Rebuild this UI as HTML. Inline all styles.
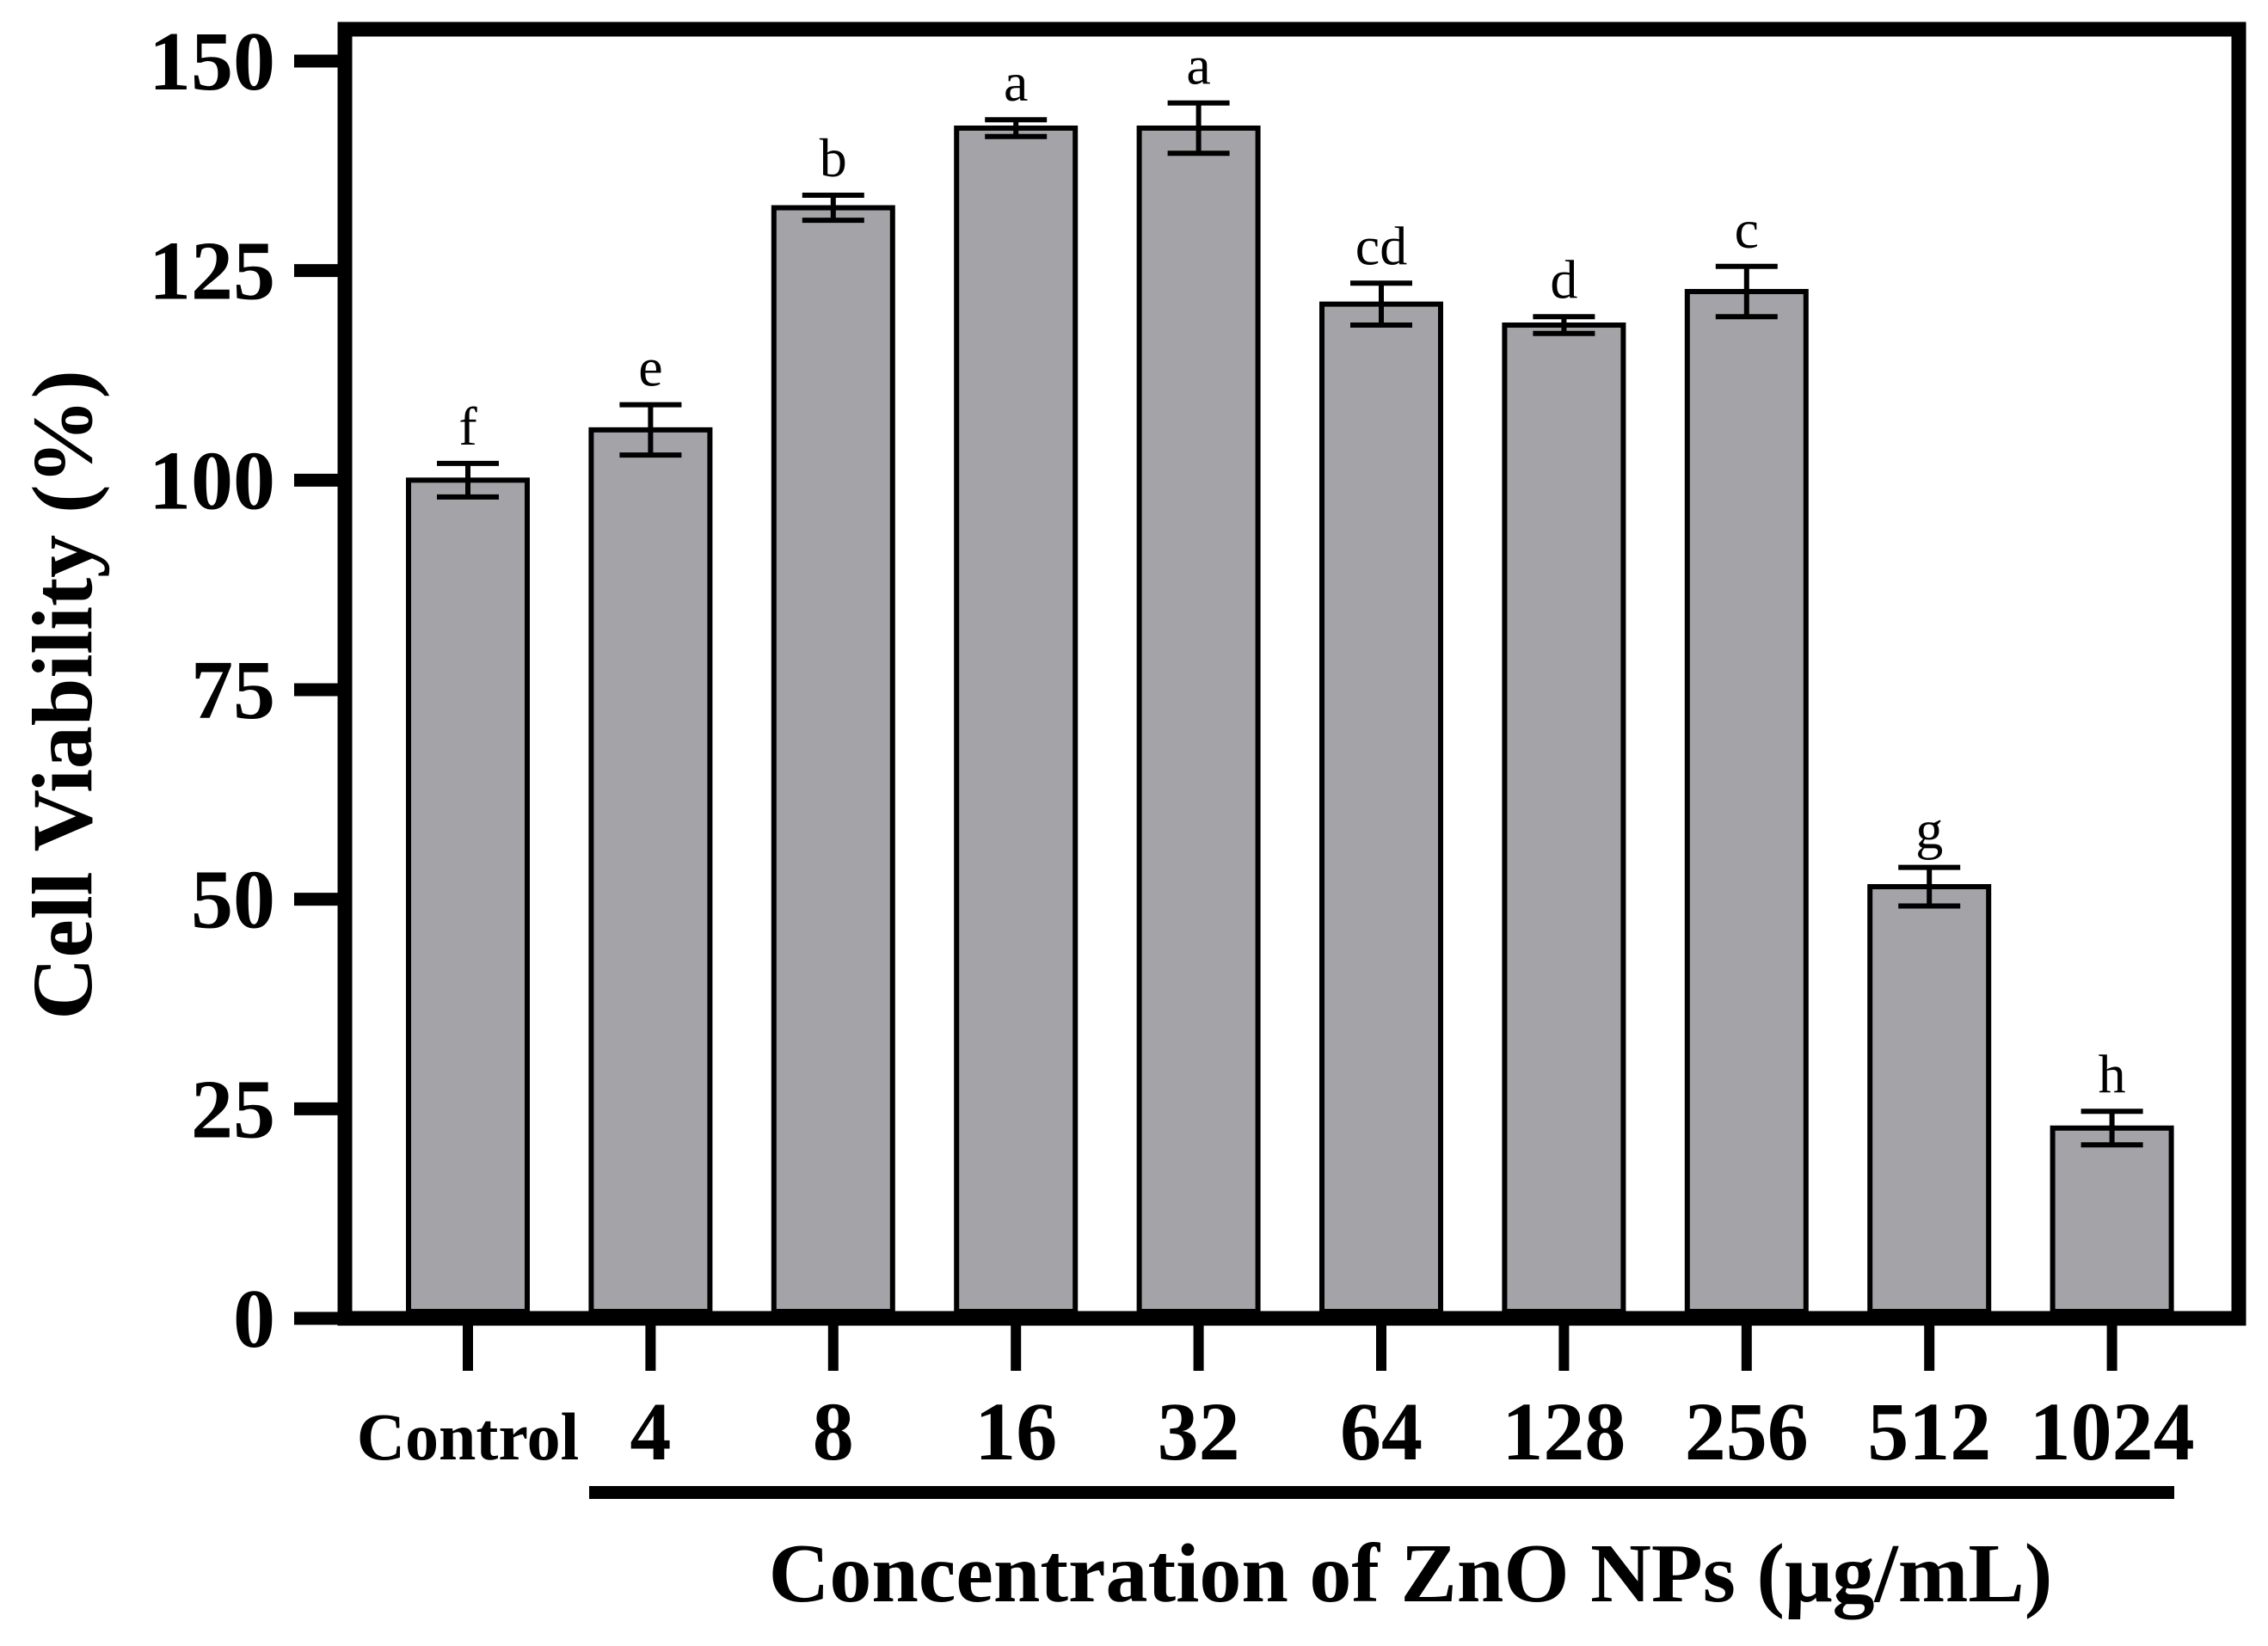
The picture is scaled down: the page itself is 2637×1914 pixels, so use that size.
<!DOCTYPE html>
<html><head><meta charset="utf-8"><style>
html,body{margin:0;padding:0;background:#fff;}
svg{display:block;font-family:"Liberation Serif",serif;}
</style></head><body>
<svg id="chart" width="2637" height="1914" viewBox="0 0 2637 1914" xmlns="http://www.w3.org/2000/svg">
<g id="marks"></g>
<g id="axes"></g>
<text x="0" y="0" transform="translate(106,808) rotate(-90)" text-anchor="middle" font-weight="bold" font-size="100">Cell Viability (%)</text>
<text x="1640" y="1862" text-anchor="middle" font-weight="bold" font-size="98">Concentration of ZnO NPs (μg/mL)</text>
<rect x="685" y="1728" width="1843" height="15" fill="#000"/>
</svg>
<script>
const categories = ["Control","4","8","16","32","64","128","256","512","1024"];
const values = [100, 106, 132.5, 142, 142, 121, 118.5, 122.5, 51.5, 22.7];
const errors = [2, 3, 1.5, 1, 3, 2.5, 1, 3, 2.3, 2];
const letters = ["f","e","b","a","a","cd","d","c","g","h"];
const yTicks = [0, 25, 50, 75, 100, 125, 150];

const NS = "http://www.w3.org/2000/svg";
const y0 = 1533, yTop = 71, vMax = 150;
function yScale(v){ return y0 - (y0 - yTop) * v / vMax; }
function xScale(i){ return 544 + i * 212.4; }
const barW = 138;
const marks = document.getElementById('marks');
const axes = document.getElementById('axes');
function mk(tag, attrs, parent){
  const e = document.createElementNS(NS, tag);
  for (const k in attrs) e.setAttribute(k, attrs[k]);
  parent.appendChild(e);
  return e;
}
categories.forEach((c, i) => {
  const cx = xScale(i), top = yScale(values[i]);
  const bar = mk('rect', {x: cx - barW/2, y: top, width: barW, height: y0 - 8 - top, fill: '#a4a4a8', stroke: '#000', 'stroke-width': 6}, marks);
  
  
  const eh = yScale(values[i] + errors[i]), el = yScale(values[i] - errors[i]);
  const g = mk('g', {stroke: '#000', 'stroke-width': 6}, marks);
  
  
  mk('line', {x1: cx, x2: cx, y1: eh, y2: el}, g);
  mk('line', {x1: cx - 36, x2: cx + 36, y1: eh, y2: eh}, g);
  mk('line', {x1: cx - 36, x2: cx + 36, y1: el, y2: el}, g);
  const t = mk('text', {x: cx, y: eh - 22, 'text-anchor': 'middle', 'font-size': 64}, marks);
  t.textContent = letters[i];
  
  
  const tk = mk('line', {x1: cx, x2: cx, y1: y0, y2: 1594, stroke: '#000', 'stroke-width': 12}, axes);
  
  
  const lb = mk('text', {x: cx, y: 1697, 'text-anchor': 'middle', 'font-weight': 'bold', 'font-size': i === 0 ? 78 : 96}, axes);
  lb.textContent = c;
  
  
});
yTicks.forEach(v => {
  const y = yScale(v);
  const tk = mk('line', {x1: 342, x2: 401, y1: y, y2: y, stroke: '#000', 'stroke-width': 15}, axes);
  
  
  const lb = mk('text', {x: 320, y: y + 33, 'text-anchor': 'end', 'font-weight': 'bold', 'font-size': 98}, axes);
  lb.textContent = String(v);
  
  
});
const frame = mk('rect', {x: 401, y: 34, width: 2202, height: y0 - 34, fill: 'none', stroke: '#000', 'stroke-width': 17}, axes);


</script>
</body></html>
